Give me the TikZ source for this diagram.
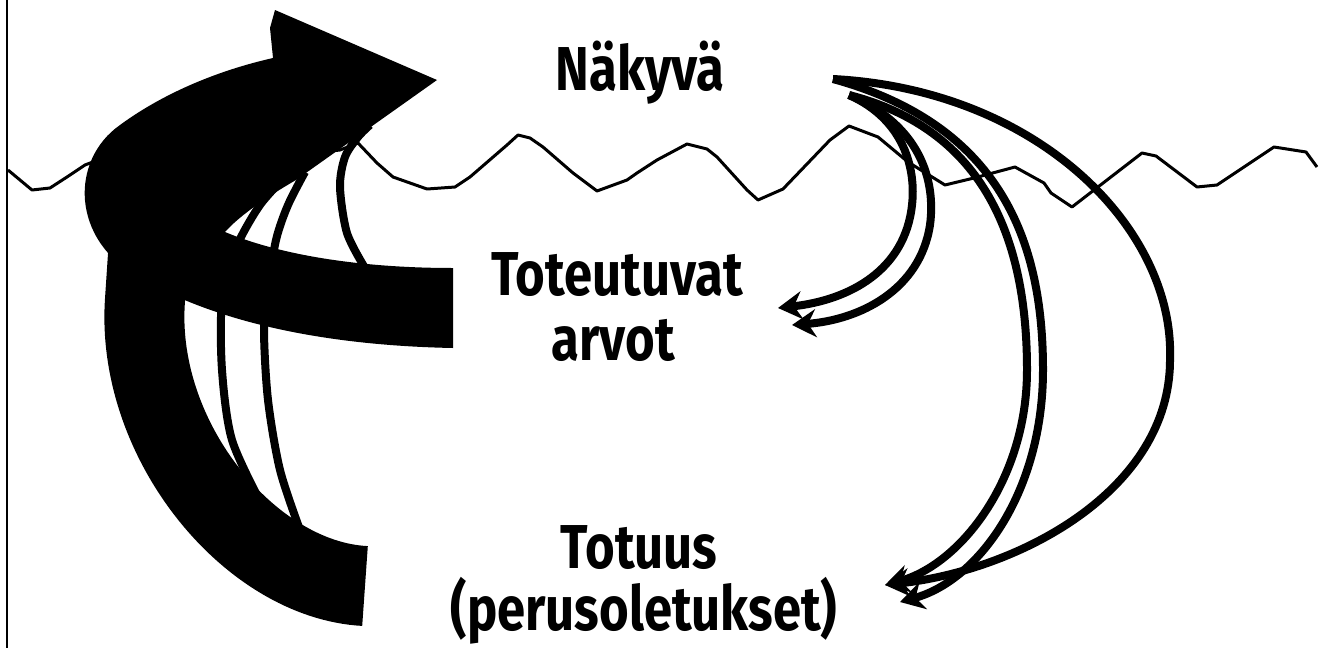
\documentclass[tikz,border=0pt]{standalone}
\usepackage{fontspec}
\newfontfamily\labelfont{Fira Sans}[FakeStretch=0.82]
\usetikzlibrary{arrows.meta}

\tikzset{
  lbl/.style={font=\labelfont\bfseries\fontsize{62}{65}\selectfont, inner sep=0pt, anchor=base},
  band/.style={line width=80pt},
  thinline/.style={line width=8pt},
  flow/.style={line width=8pt, -{Stealth[length=24pt,width=28pt,inset=8pt]}},
  wave/.style={line width=3pt, line join=round},
}

\begin{document}
\begin{tikzpicture}[x=1pt,y=-1pt]

\useasboundingbox (0,0) rectangle (1322,648);
\draw[line width=2pt] (7,0) -- (7,648);

% surface
\draw[wave] (8,170) -- (32,190) -- (50,188) -- (67,177) -- (85,165) -- (150,140) -- (250,160) -- (340,150) -- (358,143) -- (377,163) -- (393,177) -- (427,189) -- (455,187) -- (470,177) -- (507,145) -- (518,135) -- (530,138) -- (543,147) -- (573,173) -- (597,191) -- (627,180) -- (637,173) -- (657,160) -- (687,144) -- (707,149) -- (717,157) -- (747,190) -- (758,200) -- (783,189) -- (830,140) -- (849,126) -- (878,137) -- (908,162) -- (945,185) -- (974,178) -- (1015,167) -- (1044,183) -- (1051,193) -- (1072,207) -- (1142,153) -- (1156,156) -- (1197,187) -- (1217,185) -- (1274,147) -- (1306,152) -- (1317,167);

% thin lines up the left
\draw[thinline] plot[smooth] coordinates {(262,505) (232,440) (222,370) (222,300) (235,250) (260,205) (290,172)};
\draw[thinline] plot[smooth] coordinates {(300,530) (280,470) (268,400) (264,330) (268,290) (276,240) (288,205) (305,172)};
\draw[thinline] plot[smooth] coordinates {(365,268) (347,233) (340,187) (345,157) (358,137) (370,125)};

% big arrow
\draw[band] (365,586) .. controls (250,580) and (135,440) .. (145,300) -- (148,255);
\fill (453,268) -- (453,348)
  .. controls (350,346) and (230,330) .. (140,278)
  .. controls (70,240) and (70,160) .. (120,125)
  .. controls (165,92) and (220,70) .. (273,58)
  -- (270,28) -- (275,10) -- (437,80) -- (296,180)
  .. controls (270,195) and (240,215) .. (225,232)
  .. controls (280,255) and (360,268) .. (453,268) -- cycle;

% labels
\node(naky) at (640,90) [lbl] {Näkyvä};
\node(tote) at (617,295) [lbl] {Toteutuvat};
\node(arvo) at (613,360) [lbl] {arvot};
\node(totu) at (639,568) [lbl] {Totuus};
\node(peru) at (644,630) [lbl] {(perusoletukset)};

% arrows down on the right
\coordinate(sa) at (833,79);
\coordinate(sb) at (849,95);
\coordinate(ta) at (778,308);
\coordinate(tb) at (792,325);
\coordinate(tc) at (885,585);
\coordinate(td) at (900,602);

\draw[flow] (sb) .. controls (905,120) and (916,170) .. (912,205) .. controls (905,270) and (850,300) .. (ta);
\draw[flow] (sb) .. controls (920,125) and (936,180) .. (930,225) .. controls (920,290) and (860,320) .. (tb);
\draw[flow] (sb) .. controls (985,130) and (1027,240) .. (1027,370) .. controls (1027,480) and (960,565) .. (tc);
\draw[flow] (sa) .. controls (1000,125) and (1043,240) .. (1043,370) .. controls (1043,490) and (980,580) .. (td);
\draw[flow] (sa) .. controls (1040,90) and (1175,230) .. (1170,360) .. controls (1170,490) and (1020,570) .. (tc);

\end{tikzpicture}
\end{document}
